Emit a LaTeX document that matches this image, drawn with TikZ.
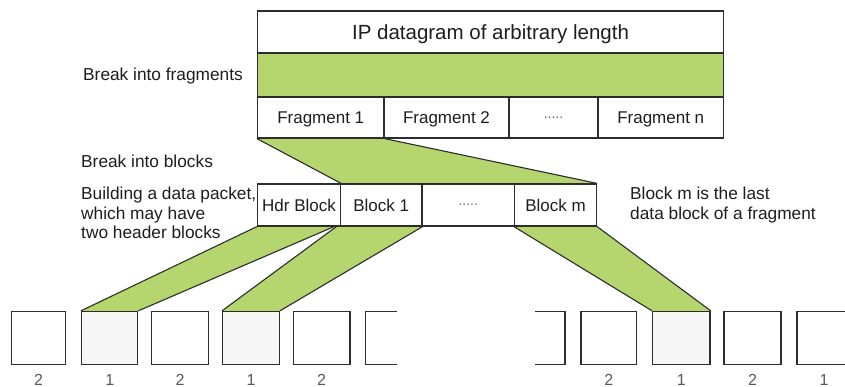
\documentclass[tikz,border=0pt]{standalone}
\usepackage{fontspec}
\setmainfont{Liberation Sans}
\usetikzlibrary{backgrounds,calc}
\definecolor{band}{RGB}{181,214,110}
\definecolor{ln}{RGB}{45,45,45}
\definecolor{txt}{RGB}{30,30,30}
\definecolor{lite}{RGB}{247,247,247}
\begin{document}
\begin{tikzpicture}[x=1pt,y=-1pt,
  cell/.style={draw=ln, line width=1.2pt, rectangle, inner sep=0pt, text=txt,
    font=\fontsize{17}{19}\selectfont, text depth=0pt},
  sbox/.style={draw=ln, line width=1.4pt, rectangle, inner sep=0pt,
    minimum height=53pt},
  lbl/.style={anchor=base west, inner sep=0pt, text=txt, font=\fontsize{17.3}{19}\selectfont},
  digit/.style={anchor=base, inner sep=0pt, text=black!65, font=\fontsize{16}{18}\selectfont},
  bandfill/.style={fill=band},
  bandedge/.style={draw=ln, line width=1.1pt}]
\useasboundingbox (0,0) rectangle (845,387);

% top structure
\node[cell, minimum width=466pt, minimum height=42pt, font=\fontsize{20.5}{22}\selectfont] (ip) at (490.5,32) {IP datagram of arbitrary length};
\node[cell, fill=band, minimum width=466pt, minimum height=44pt] (brk) at (490.5,75) {};
\node[cell, minimum width=126.5pt, minimum height=41pt] (frag1) at (320.75,117.5) {Fragment 1};
\node[cell, minimum width=125pt, minimum height=41pt] (frag2) at (446.5,117.5) {Fragment 2};
\node[cell, minimum width=89pt, minimum height=41pt, text=black!60, font=\fontsize{14}{16}\selectfont] (fragd) at (553.5,117.5) {.....};
\node[cell, minimum width=125.5pt, minimum height=41pt] (fragn) at (660.75,117.5) {Fragment n};

% block row
\node[cell, minimum width=83pt, minimum height=42pt] (hdr) at (299,205) {Hdr Block};
\node[cell, minimum width=81.5pt, minimum height=42pt] (blk1) at (381.25,205) {Block 1};
\node[cell, minimum width=92.5pt, minimum height=42pt, text=black!55, font=\fontsize{14}{16}\selectfont] (blkd) at (468.25,205) {.....};
\node[cell, minimum width=82pt, minimum height=42pt] (blkm) at (555.5,205) {Block m};

% side labels
\node[lbl] (lf) at (83,81) {Break into fragments};
\node[lbl] (lb) at (81,168) {Break into blocks};
\node[lbl] (lp1) at (81,200) {Building a data packet,};
\node[lbl] (lp2) at (81,220) {which may have};
\node[lbl] (lp3) at (81,239) {two header blocks};
\node[lbl] (lm1) at (630,200) {Block m is the last};
\node[lbl] (lm2) at (630,220) {data block of a fragment};

% small boxes, left group
\node[sbox, minimum width=54pt] (b1) at (38.5,338) {};
\node[sbox, minimum width=56pt, fill=lite] (b2) at (109.7,338) {};
\node[sbox, minimum width=56.6pt] (b3) at (180,338) {};
\node[sbox, minimum width=56.6pt, fill=lite] (b4) at (251,338) {};
\node[sbox, minimum width=56.7pt] (b5) at (321.65,338) {};
\draw[ln, line width=1.4pt] (396.7,311.5) -| (365.7,364.5) -- (396.7,364.5);

% small boxes, right group
\draw[ln, line width=1.4pt] (535,311.5) -| (565,364.5) -- (535,364.5);
\node[sbox, minimum width=55.7pt] (c1) at (608.85,338) {};
\node[sbox, minimum width=57.3pt, fill=lite] (c2) at (681.35,338) {};
\node[sbox, minimum width=57pt] (c3) at (752.5,338) {};
\begin{scope}
\clip (0,0) rectangle (845,387);
\node[sbox, minimum width=56pt] (c4) at (825,338) {};
\end{scope}

% digits
\node[digit] (d1) at (b1 |- 0,385) {2};
\node[digit] (d2) at (b2 |- 0,385) {1};
\node[digit] (d3) at (b3 |- 0,385) {2};
\node[digit] (d4) at (b4 |- 0,385) {1};
\node[digit] (d5) at (b5 |- 0,385) {2};
\node[digit] (d6) at (c1 |- 0,385) {2};
\node[digit] (d7) at (c2 |- 0,385) {1};
\node[digit] (d8) at (c3 |- 0,385) {2};
\node[digit] (d9) at (824,385) {1};

% green bands
\coordinate (hA) at ($(hdr.south east)+(-7,0)$);
\coordinate (hB) at ($(blk1.south west)+(-3.5,0)$);
\begin{scope}[on background layer]
\fill[white] (0,0) rectangle (845,387);
\fill[bandfill] (frag1.south west) -- (frag1.south east) -- (blkm.north east) -- (hdr.north east) -- cycle;
\fill[bandfill] (hdr.south west) -- (hA) -- (b2.north east) -- (b2.north west) -- cycle;
\fill[bandfill] (hB) -- (blk1.south east) -- (b4.north east) -- (b4.north west) -- cycle;
\fill[bandfill] (blkm.south west) -- (blkm.south east) -- (c2.north east) -- (c2.north west) -- cycle;
\end{scope}
\draw[bandedge] (frag1.south west) -- (hdr.north east);
\draw[bandedge] (frag1.south east) -- (blkm.north east);
\draw[bandedge] (hdr.south west) -- (b2.north west);
\draw[bandedge] (hA) -- (b2.north east);
\draw[bandedge] (hB) -- (b4.north west);
\draw[bandedge] (blk1.south east) -- (b4.north east);
\draw[bandedge] (blkm.south west) -- (c2.north west);
\draw[bandedge] (blkm.south east) -- (c2.north east);
\end{tikzpicture}
\end{document}
